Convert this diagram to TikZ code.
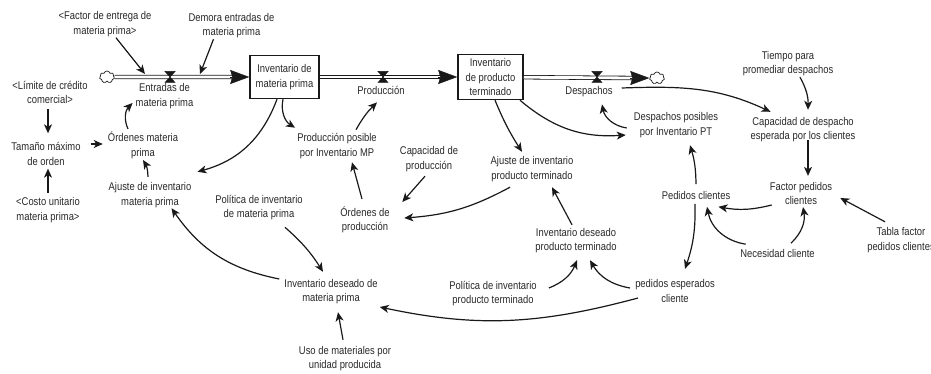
\documentclass[tikz,border=0pt]{standalone}
\usepackage{fontspec}
\setmainfont{Liberation Sans}[FakeStretch=0.84]
\usepackage{tikz}
\usetikzlibrary{positioning,arrows.meta,shapes.symbols}
\definecolor{vartext}{RGB}{40,40,40}
\definecolor{linkgray}{RGB}{25,25,25}
\newcommand{\dgfont}{\fontsize{11.2}{14.6}\selectfont}
\tikzset{
  varnode/.style   = {align=center, inner sep=1pt, font=\dgfont, text=vartext},
  stocknode/.style = {draw=linkgray, line width=1.5pt, align=center, inner sep=1pt,
                      font=\dgfont, text=vartext},
  cloudnode/.style = {cloud, cloud puffs=7, cloud ignores aspect, draw=linkgray,
                      line width=0.7pt, minimum width=15pt, minimum height=12pt, inner sep=0pt},
  link/.style      = {-{Stealth[length=9pt,width=8pt,inset=2.5pt]}, line width=1.2pt, linkgray},
  pipe/.style      = {double=white, double distance=2.8pt, line width=0.8pt, linkgray},
  pipehead/.style  = {-{Stealth[length=19pt,width=14pt,inset=2pt]}, line width=0.4pt, linkgray},
  valve/.pic       = {\draw[line width=0.5pt, fill=white, linkgray]
                        (-5,5.5) -- (5,5.5) -- (-5,-5.5) -- (5,-5.5) -- cycle;}
}

\begin{document}
\begin{tikzpicture}[x=1pt, y=1pt]
  \useasboundingbox (0,0) rectangle (931,-374);
  % ---- stocks ----
  \node[stocknode, minimum width=69pt, minimum height=43pt] (stMP) at (284.5,-77) {Inventario de\\materia prima};
  \node[stocknode, minimum width=65pt, minimum height=45pt] (stPT) at (490.5,-77) {Inventario\\de producto\\terminado};
  % ---- clouds, valves ----
  \node[cloudnode] (cldL) at (107,-77) {};
  \node[cloudnode] (cldR) at (657,-78) {};
  \coordinate (vEnt)  at (170,-77);
  \coordinate (vProd) at (383,-77);
  \coordinate (vDesp) at (597,-77);
  \coordinate (entA)  at (145,-74);
  \coordinate (entB)  at (200,-74);
  % ---- flow labels ----
  \node[varnode] (lEnt)  at (164.5,-96) {Entradas de\\materia prima};
  \node[varnode] (lProd) at (381,-90)   {Producción};
  \node[varnode] (lDesp) at (589,-92)   {Despachos};
  % ---- raw material side ----
  \node[varnode] (fEntrega) at (105,-24)    {<Factor de entrega de\\materia prima>};
  \node[varnode] (demora)   at (231.5,-25.5) {Demora entradas de\\materia prima};
  \node[varnode] (limite)   at (50,-92.5)   {<Límite de crédito\\comercial>};
  \node[varnode] (tamano)   at (46,-154)    {Tamaño máximo\\de orden};
  \node[varnode] (costo)    at (48,-210)    {<Costo unitario\\materia prima>};
  \node[varnode] (ordMP)    at (143,-145.5) {Órdenes materia\\prima};
  \node[varnode] (ajMP)     at (150,-195)   {Ajuste de inventario\\materia prima};
  \node[varnode] (polMP)    at (259,-207.5) {Política de inventario\\de materia prima};
  \node[varnode] (invDesMP) at (331,-291.5) {Inventario deseado de\\materia prima};
  \node[varnode] (uso)      at (345,-358.5) {Uso de materiales por\\unidad producida};
  % ---- production side ----
  \node[varnode] (prodPos)  at (337,-146)   {Producción posible\\por Inventario MP};
  \node[varnode] (capProd)  at (429,-159)   {Capacidad de\\producción};
  \node[varnode] (ordProd)  at (365,-220)   {Órdenes de\\producción};
  \node[varnode] (ajPT)     at (532,-169)   {Ajuste de inventario\\producto terminado};
  \node[varnode] (invDesPT) at (576,-240.5) {Inventario deseado\\producto terminado};
  \node[varnode] (polPT)    at (493,-293.5) {Política de inventario\\producto terminado};
  % ---- customer side ----
  \node[varnode] (despPos)   at (676,-125)   {Despachos posibles\\por Inventario PT};
  \node[varnode] (tiempo)    at (788,-63.5)  {Tiempo para\\promediar despachos};
  \node[varnode] (capDesp)   at (803,-129.5) {Capacidad de despacho\\esperada por los clientes};
  \node[varnode] (factor)    at (801,-193.5) {Factor pedidos\\clientes};
  \node[varnode] (pedidos)   at (696,-195)   {Pedidos clientes};
  \node[varnode] (necesidad) at (777.5,-253) {Necesidad cliente};
  \node[varnode] (tabla)     at (901,-240)   {Tabla factor\\pedidos clientes};
  \node[varnode] (pedEsp)    at (675,-291)   {pedidos esperados\\cliente};
  % ---- pipes ----
  \draw[pipe] (cldL) -- ([xshift=-17pt]stMP.west);
  \draw[pipehead] ([xshift=-19pt]stMP.west) -- (stMP.west);
  \draw[pipe] (stMP) -- ([xshift=-17pt]stPT.west);
  \draw[pipehead] ([xshift=-19pt]stPT.west) -- (stPT.west);
  \draw[pipe] (stPT) -- ([xshift=-17pt]cldR.west);
  \draw[pipehead] ([xshift=-19pt]cldR.west) -- (cldR.west);
  \pic at (vEnt) {valve};
  \pic at (vProd) {valve};
  \pic at (vDesp) {valve};
  % ---- links ----
  \draw[link] (fEntrega) -- (entA);
  \draw[link] ([xshift=-18pt]demora.south) -- (entB);
  \draw[link] ([xshift=-2pt,yshift=-4pt]limite.south) -- ([xshift=2pt,yshift=8pt]tamano.north);
  \draw[link] ([yshift=3pt]costo.north) -- ([xshift=2pt,yshift=-2pt]tamano.south);
  \draw[link] ([xshift=9pt,yshift=10pt]tamano.east) -- ([xshift=-4pt,yshift=1.5pt]ordMP.west);
  \draw[link] ([xshift=-15pt,yshift=2pt]ordMP.north) to[bend left=35] ([xshift=-2pt,yshift=-7pt]lEnt.west);
  \draw[link] ([xshift=-2pt,yshift=4.5pt]ajMP.north) to[bend right=15] (ordMP.south);
  \draw[link] ([xshift=-7.5pt]stMP.south) to[bend left=27] ([xshift=5pt,yshift=9.5pt]ajMP.north east);
  \draw[link] ([xshift=-1.5pt]stMP.south) to[bend right=35] ([xshift=-1pt,yshift=4.5pt]prodPos.north west);
  \draw[link] ([xshift=19pt,yshift=2.5pt]prodPos.north) to[bend left=8] ([xshift=-4pt,yshift=-7pt]lProd.south);
  \draw[link] ([xshift=-4pt,yshift=-3.5pt]capProd.south) -- ([xshift=11.5pt,yshift=3.5pt]ordProd.north east);
  \draw[link] ([xshift=-3pt,yshift=6.5pt]ordProd.north) -- ([xshift=15pt,yshift=-2.5pt]prodPos.south);
  \draw[link] ([xshift=4.5pt]stPT.south) to[bend right=5] ([xshift=-10pt,yshift=3.5pt]ajPT.north);
  \draw[link] ([xshift=-22pt,yshift=-4.5pt]ajPT.south) to[bend left=12] ([xshift=13.5pt,yshift=2pt]ordProd.east);
  \draw[link] ([xshift=29.5pt]stPT.south) to[bend right=22] ([xshift=-7pt,yshift=-10pt]despPos.west);
  \draw[link] ([xshift=-6pt,yshift=-3pt]despPos.west) to[bend left=35] ([xshift=13pt,yshift=-6pt]lDesp.south);
  \draw[link] ([xshift=8pt,yshift=4pt]lDesp.east) to[out=2,in=155] ([xshift=21pt,yshift=4pt]capDesp.north west);
  \draw[link] ([xshift=12pt]tiempo.south) to[bend left=15] ([xshift=5pt,yshift=6pt]capDesp.north);
  \draw[link] ([xshift=5pt,yshift=3pt]capDesp.south) -- ([xshift=7pt,yshift=5pt]factor.north);
  \draw[link] ([xshift=3pt,yshift=-11.5pt]factor.west) to[bend left=12] ([xshift=-13pt,yshift=-6.5pt]pedidos.south east);
  \draw[link] ([xshift=-16pt,yshift=4.5pt]tabla.north) -- ([xshift=7pt,yshift=-4.5pt]factor.east);
  \draw[link] ([xshift=6.5pt,yshift=3.5pt]necesidad.north west) to[bend left=35] ([xshift=11pt,yshift=-6.5pt]pedidos.south);
  \draw[link] ([xshift=13.5pt,yshift=4.5pt]necesidad.north) to[bend right=28] ([xshift=2pt,yshift=-1pt]factor.south);
  \draw[link] ([yshift=5.5pt]pedidos.north) to[bend right=8] ([xshift=14pt,yshift=-6.5pt]despPos.south);
  \draw[link] ([xshift=-1pt,yshift=-3.5pt]pedidos.south) to[bend left=10] ([xshift=10pt,yshift=9.5pt]pedEsp.north);
  \draw[link] ([xshift=-4pt,yshift=3pt]pedEsp.west) to[bend left=25] ([xshift=14pt,yshift=-6pt]invDesPT.south);
  \draw[link] ([xshift=4pt,yshift=-7pt]pedEsp.west) to[out=195,in=-12] ([xshift=1pt,yshift=-15.5pt]invDesMP.east);
  \draw[link] ([xshift=11pt,yshift=5.5pt]polPT.east) to[bend right=23] ([xshift=1pt,yshift=-6pt]invDesPT.south);
  \draw[link] ([xshift=-4pt,yshift=2pt]invDesPT.north) -- ([xshift=20pt,yshift=-4.5pt]ajPT.south);
  \draw[link] ([xshift=26pt,yshift=-6pt]polMP.south) to[bend left=8] ([xshift=-8pt,yshift=6pt]invDesMP.north);
  \draw[link] ([xshift=-4pt,yshift=12.5pt]invDesMP.west) to[bend left=22] ([xshift=-21pt,yshift=0.5pt]ajMP.south east);
  \draw[link] ([xshift=-2pt,yshift=5pt]uso.north) -- ([xshift=7pt,yshift=-7pt]invDesMP.south);
\end{tikzpicture}
\end{document}
